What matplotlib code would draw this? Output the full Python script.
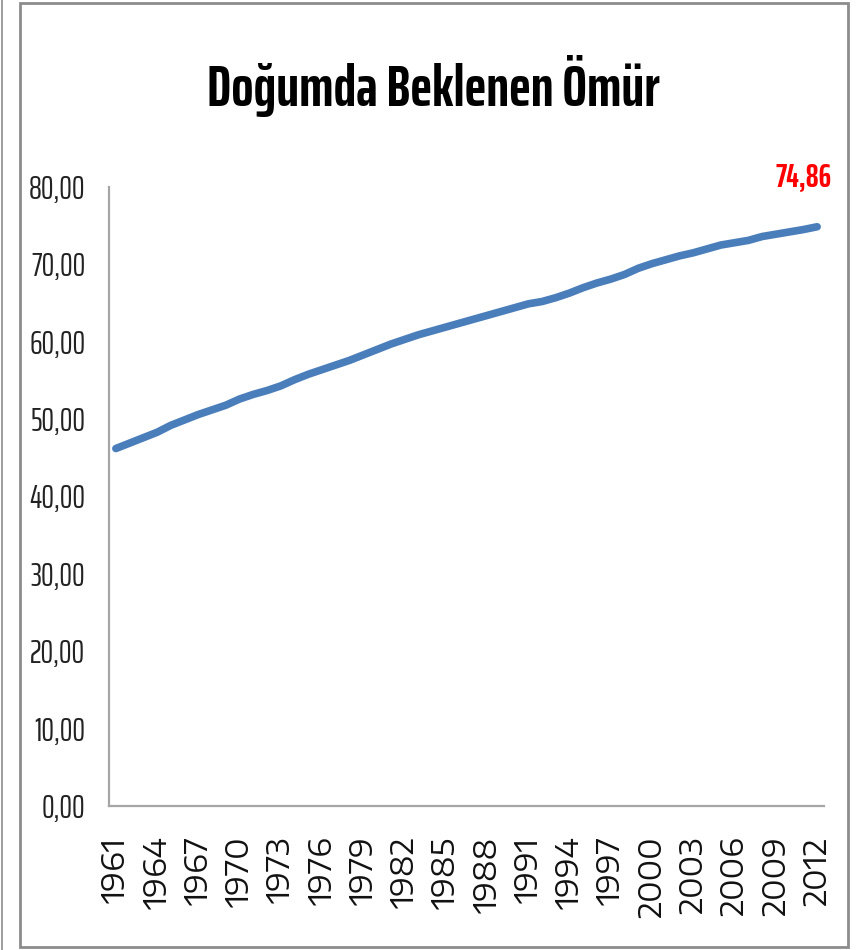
import matplotlib
matplotlib.use("Agg")
import matplotlib.pyplot as plt
from matplotlib.patches import Rectangle

years = list(range(1961, 2013))
life_expectancy = [
    46.2, 46.9, 47.6, 48.3, 49.2, 49.9, 50.6, 51.2, 51.8, 52.6,
    53.2, 53.7, 54.3, 55.1, 55.8, 56.4, 57.0, 57.6, 58.3, 59.0,
    59.7, 60.3, 60.9, 61.4, 61.9, 62.4, 62.9, 63.4, 63.9, 64.4,
    64.9, 65.2, 65.7, 66.3, 67.0, 67.6, 68.1, 68.7, 69.5, 70.1,
    70.6, 71.1, 71.5, 72.0, 72.5, 72.8, 73.1, 73.6, 73.9, 74.2,
    74.5, 74.86,
]
y_ticks = [0, 10, 20, 30, 40, 50, 60, 70, 80]
title = "Doğumda Beklenen Ömür"
last_label = "74,86"

narrow = ["Saira ExtraCondensed", "DejaVu Sans"]
wide = ["Encode Sans Expanded", "DejaVu Sans"]

fig = plt.figure(figsize=(8.56, 9.5), dpi=100)
fig.patch.set_facecolor("white")

# outer frame
fig.patches.append(Rectangle((20 / 856, 3 / 950), 828 / 856, 944 / 950,
                             transform=fig.transFigure, fill=False,
                             edgecolor="#8c8c8c", linewidth=2))
fig.patches.append(Rectangle((2 / 856, 0), 0.0001, 1,
                             transform=fig.transFigure, fill=False,
                             edgecolor="#8c8c8c", linewidth=1.2))

ax = fig.add_axes([109 / 856, 1 - 806 / 950, 715 / 856, (806 - 187) / 950])
x = list(range(len(years)))
ax.plot(x, life_expectancy, color="#4A7EBB", linewidth=5.5,
        solid_capstyle="round", solid_joinstyle="round")

ax.set_xlim(-0.5, len(years) - 0.5)
ax.set_ylim(0, 80)
ax.set_yticks(y_ticks)
ax.set_yticklabels([f"{v:.2f}".replace(".", ",") for v in y_ticks],
                   fontfamily=narrow, fontsize=23, color="#222222")
tick_idx = list(range(0, len(years), 3))
ax.set_xticks(tick_idx)
ax.set_xticklabels([str(years[i]) for i in tick_idx], rotation=90,
                   fontfamily=wide, fontsize=22, fontweight=400,
                   color="#111111")
ax.tick_params(axis="y", length=0, pad=17)
ax.tick_params(axis="x", length=0, pad=22)

for s in ["top", "right"]:
    ax.spines[s].set_visible(False)
for s in ["left", "bottom"]:
    ax.spines[s].set_color("#a6a6a6")
    ax.spines[s].set_linewidth(1.6)

ax.annotate(last_label, xy=(x[-1], life_expectancy[-1]), xytext=(-10, 36),
            textcoords="offset points", ha="center", va="center",
            color="#ff0000", fontweight="bold", fontfamily=narrow, fontsize=23)

fig.text(0.507, 1 - 106 / 950, title, ha="center", va="baseline",
         fontfamily=narrow, fontweight="bold", fontsize=42, color="black")

fig.savefig("out.png", dpi=100)
